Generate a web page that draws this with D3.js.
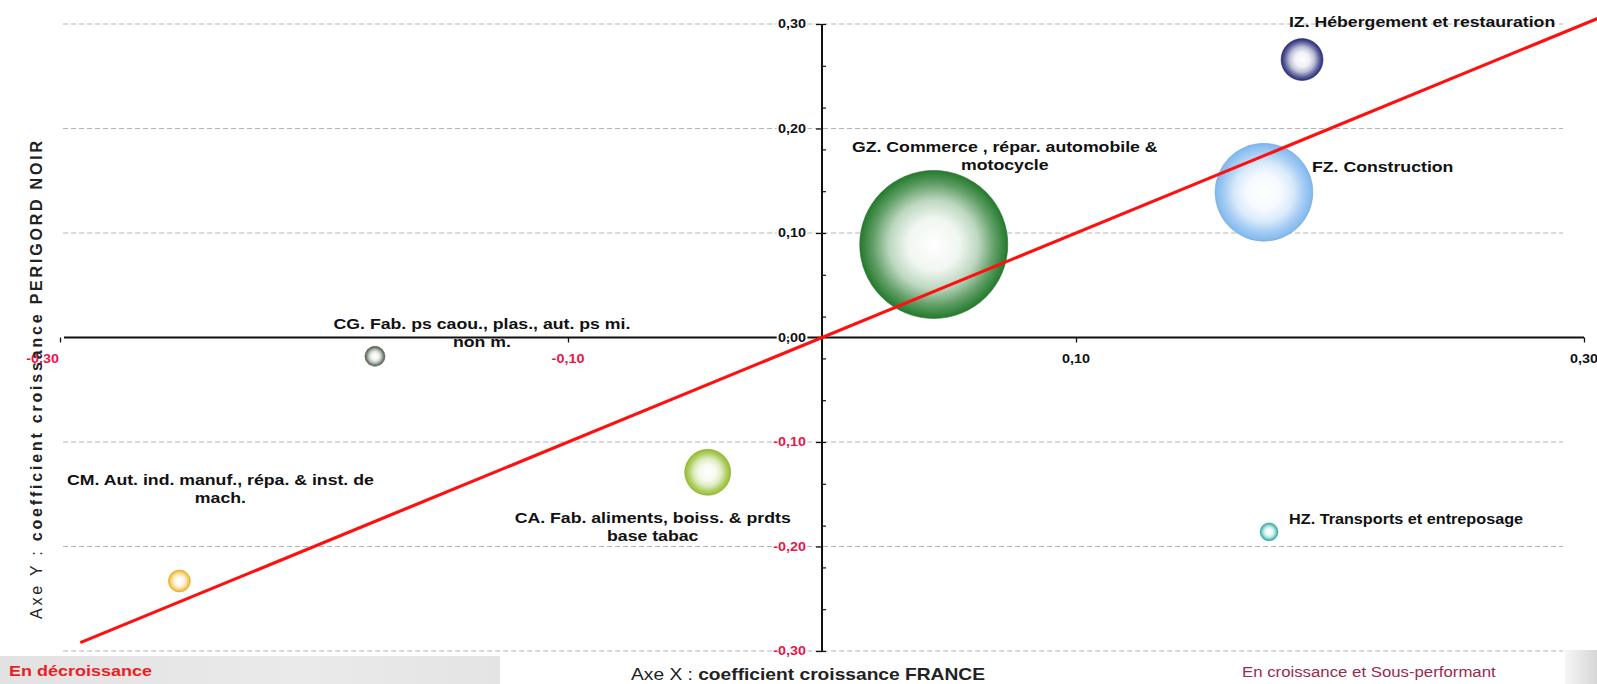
<!DOCTYPE html>
<html>
<head>
<meta charset="utf-8">
<script src="https://cdn.jsdelivr.net/npm/d3@7"></script>
<style>
  html, body { margin: 0; padding: 0; background: #fff; }
  svg { display: block; font-family: "Liberation Sans", Arial, sans-serif; }
</style>
</head>
<body>
<svg id="chart" width="1597" height="684"></svg>
<script>
// Sector codes and their data-label text (one entry per line)
const sectors = ["IZ", "GZ", "FZ", "HZ", "CA", "CG", "CM"];
const labelLines = [
  ["IZ. Hébergement et restauration"],
  ["GZ. Commerce , répar. automobile &", "motocycle"],
  ["FZ. Construction"],
  ["HZ. Transports et entreposage"],
  ["CA. Fab. aliments, boiss. & prdts", "base tabac"],
  ["CG. Fab. ps caou., plas., aut. ps mi.", "non m."],
  ["CM. Aut. ind. manuf., répa. & inst. de", "mach."]
];
// X: growth coefficient France, Y: growth coefficient Périgord Noir, bubble size: weight of the sector
const growthFrance   = [0.189, 0.044, 0.174, 0.176, -0.045, -0.176, -0.253];
const growthPerigord = [0.266, 0.089, 0.139, -0.186, -0.129, -0.018, -0.233];
const bubbleSize     = [440, 5500, 2400, 80, 530, 100, 120];

const xTickValues = [-0.3, -0.1, 0.1, 0.3];
const yTickValues = [0.3, 0.2, 0.1, 0, -0.1, -0.2, -0.3];

// ---- styling / layout ----
const colors = {
  IZ: "#262a78", GZ: "#237a2c", FZ: "#7fb8ee", HZ: "#2fb0a6",
  CA: "#93bd2c", CG: "#4f604f", CM: "#f2b52a"
};
// label block position relative to the bubble centre (first line centre)
const labelLayout = {
  IZ: { dx: 120, dy: -38, anchor: "middle", sx: 1.18 },
  GZ: { dx: 71,  dy: -98, anchor: "middle", sx: 1.18 },
  FZ: { dx: 48,  dy: -26, anchor: "start",  sx: 1.18 },
  HZ: { dx: 20,  dy: -13, anchor: "start",  sx: 1.08 },
  CA: { dx: -55, dy: 45,  anchor: "middle", sx: 1.18 },
  CG: { dx: 107, dy: -33, anchor: "middle", sx: 1.18 },
  CM: { dx: 41,  dy: -101, anchor: "middle", sx: 1.18 }
};
const lineHeight = 18;
const stretch = 1.18;          // horizontal text stretch
const negColor = "#e8174a";

const svg = d3.select("#chart");
const x = d3.scaleLinear().domain([-0.3, 0.3]).range([60, 1584]);
const y = d3.scaleLinear().domain([-0.3, 0.3]).range([651, 24]);
const r = d3.scaleSqrt().domain([0, 5500]).range([0, 74]);
const fmt = v => d3.format(".2f")(v).replace(".", ",").replace("−", "-");

const data = sectors.map((s, i) => ({
  code: s, lines: labelLines[i], xv: growthFrance[i], yv: growthPerigord[i], size: bubbleSize[i]
}));

// ---- bottom panels ----
const defs = svg.append("defs");
const gLeft = defs.append("linearGradient").attr("id", "panelLeft");
gLeft.append("stop").attr("offset", "0%").attr("stop-color", "#e2e2e2");
gLeft.append("stop").attr("offset", "60%").attr("stop-color", "#eaeaea");
gLeft.append("stop").attr("offset", "100%").attr("stop-color", "#e4e4e4");
const gRight = defs.append("linearGradient").attr("id", "panelRight");
gRight.append("stop").attr("offset", "0%").attr("stop-color", "#f6f6f6");
gRight.append("stop").attr("offset", "100%").attr("stop-color", "#d6d6d6");

svg.append("rect").attr("x", 0).attr("y", 656).attr("width", 500).attr("height", 28).attr("fill", "url(#panelLeft)");
svg.append("rect").attr("x", 1565).attr("y", 650).attr("width", 32).attr("height", 34).attr("fill", "url(#panelRight)");

// ---- gridlines ----
svg.append("g").selectAll("line")
  .data(yTickValues.filter(v => v !== 0))
  .join("line")
  .attr("x1", 63).attr("x2", 1563)
  .attr("y1", d => y(d)).attr("y2", d => y(d))
  .attr("stroke", "#b4b4b4").attr("stroke-width", 1)
  .attr("stroke-dasharray", "5,3");

// ---- axes crossing at the origin ----
const xAxis = d3.axisBottom(x).tickValues(xTickValues).tickSize(5).tickFormat("");
const gx = svg.append("g").attr("transform", `translate(0,${y(0)})`).call(xAxis);
gx.select(".domain").attr("stroke", "#111").attr("stroke-width", 2).attr("d", `M64,0H1584`);
gx.selectAll(".tick line").attr("stroke", "#111").attr("stroke-width", 1.3);

const yAxis = d3.axisLeft(y).tickValues(yTickValues).tickSize(6).tickFormat("");
const gy = svg.append("g").attr("transform", `translate(${x(0)},0)`).call(yAxis);
gy.select(".domain").attr("stroke", "#111").attr("stroke-width", 2).attr("d", `M0,${y(0.3)}V${y(-0.3)}`);
gy.selectAll(".tick line").attr("stroke", "#111").attr("stroke-width", 1.3);

// minor ticks on the right side of the vertical axis
const yMinor = d3.axisRight(y).tickValues(d3.range(-15, 16, 2).map(k => k * 0.02)).tickSize(4).tickFormat("");
const gyMinor = svg.append("g").attr("transform", `translate(${x(0)},0)`).call(yMinor);
gyMinor.select(".domain").remove();
gyMinor.selectAll(".tick line").attr("stroke", "#111").attr("stroke-width", 1.2);

// tick labels
function stretchedText(parent, px, py, txt, opts) {
  const g = parent.append("g").attr("transform", `translate(${px},${py}) scale(${opts.sx || stretch},1)`);
  return g.append("text")
    .attr("text-anchor", opts.anchor || "middle")
    .attr("dominant-baseline", opts.baseline || "central")
    .attr("font-size", opts.size || 12)
    .attr("font-weight", opts.weight || "bold")
    .attr("fill", opts.fill || "#111")
    .text(txt);
}
const tickLabels = svg.append("g");
yTickValues.forEach(v => {
  stretchedText(tickLabels, 806, y(v), fmt(v), { anchor: "end", size: 12, sx: 1.2, fill: v < 0 ? negColor : "#111" })
    .attr("stroke", "#fff").attr("stroke-width", 3).attr("paint-order", "stroke");
});
xTickValues.forEach(v => {
  // the leftmost label sits flush against the end of the axis
  const edge = v === xTickValues[0];
  stretchedText(tickLabels, edge ? x(v) - 1 : x(v), y(0) + 21, fmt(v),
    { anchor: edge ? "end" : "middle", size: 12, sx: 1.2, fill: v < 0 ? negColor : "#111" });
});

// ---- bubbles ----
data.forEach(d => {
  const mix = t => d3.interpolateRgb(colors[d.code], "#ffffff")(t);
  const grad = defs.append("radialGradient").attr("id", "grad-" + d.code)
    .attr("cx", "50%").attr("cy", "50%").attr("r", "50%");
  [[0, 1], [0.35, 0.93], [0.6, 0.7], [0.82, 0.28], [1, 0]].forEach(([o, t]) =>
    grad.append("stop").attr("offset", o).attr("stop-color", mix(t)));
});

svg.append("g").selectAll("circle")
  .data(data.slice().sort((a, b) => b.size - a.size))
  .join("circle")
  .attr("cx", d => x(d.xv))
  .attr("cy", d => y(d.yv))
  .attr("r", d => r(d.size))
  .attr("fill", d => `url(#grad-${d.code})`)
  .attr("stroke", d => d3.color(colors[d.code]).darker(0.3))
  .attr("stroke-width", 0.6);

// ---- reference diagonal: equal growth (y = x) ----
const diag = [-0.292, 0.312];
svg.append("line")
  .attr("x1", x(diag[0])).attr("y1", y(diag[0]))
  .attr("x2", x(diag[1])).attr("y2", y(diag[1]))
  .attr("stroke", "#ff1010").attr("stroke-width", 3.2);

// ---- data labels ----
const labels = svg.append("g");
data.forEach(d => {
  const L = labelLayout[d.code];
  d.lines.forEach((line, k) => {
    stretchedText(labels, x(d.xv) + L.dx, y(d.yv) + L.dy + k * lineHeight, line,
      { anchor: L.anchor, size: 15, weight: "bold", fill: "#111", sx: L.sx });
  });
});

// ---- axis titles ----
const xt = svg.append("g").attr("transform", `translate(808,680) scale(1.2,1)`)
  .append("text").attr("text-anchor", "middle").attr("font-size", 16).attr("fill", "#222");
xt.append("tspan").text("Axe X : ");
xt.append("tspan").attr("font-weight", "bold").text("coefficient croissance FRANCE");

const yt = svg.append("text")
  .attr("transform", `translate(42,380) rotate(-90)`)
  .attr("text-anchor", "middle").attr("font-size", 16).attr("fill", "#222")
  .attr("textLength", 478).attr("lengthAdjust", "spacing");
yt.append("tspan").text("Axe Y : ");
yt.append("tspan").attr("font-weight", "bold").text("coefficient croissance PERIGORD NOIR");

// ---- quadrant captions ----
stretchedText(svg, 9, 676, "En décroissance", { anchor: "start", baseline: "auto", size: 15, weight: "bold", fill: "#ee1c25", sx: 1.2 });
stretchedText(svg, 1242, 677, "En croissance et Sous-performant", { anchor: "start", baseline: "auto", size: 15, weight: "normal", fill: "#9b2a4e", sx: 1.12 });
</script>
</body>
</html>
